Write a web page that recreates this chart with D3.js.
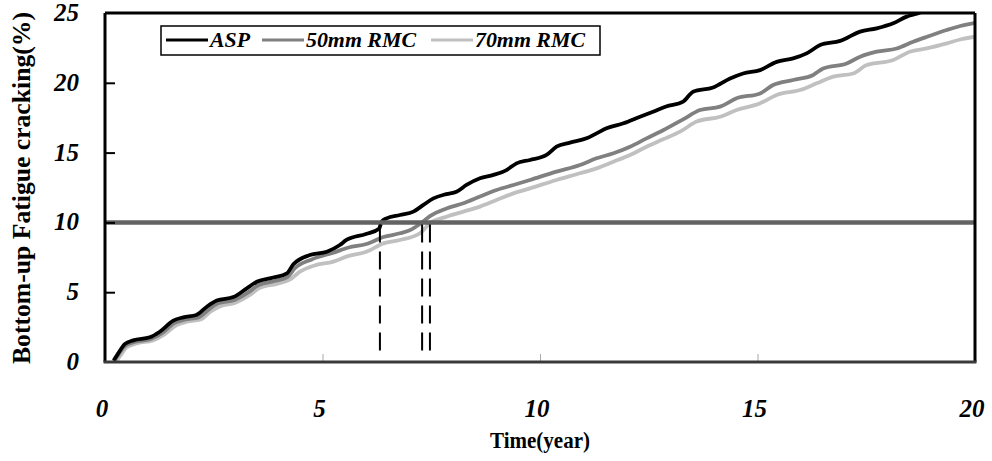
<!DOCTYPE html>
<html>
<head>
<meta charset="utf-8">
<script src="https://cdn.jsdelivr.net/npm/d3@7/dist/d3.min.js"></script>
<style>
  body { margin: 0; background: #fff; }
  svg text { font-family: "Times New Roman", "Liberation Serif", serif; }
</style>
</head>
<body>
<div id="chart"></div>
<script>
// data
var aspYears = [0.2, 0.3, 0.46, 0.65, 1.03, 1.26, 1.57, 1.8, 2.1, 2.34, 2.57, 2.95, 3.26, 3.49, 3.87, 4.18, 4.33, 4.71, 5.1, 5.4, 5.55, 6.0, 6.3, 6.36, 6.47, 6.78, 7.09, 7.32, 7.55, 7.85, 8.08, 8.31, 8.62, 8.93, 9.23, 9.46, 9.77, 10.15, 10.38, 10.69, 11.07, 11.3, 11.53, 11.92, 12.3, 12.6, 12.9, 13.29, 13.52, 13.98, 14.37, 14.67, 15.06, 15.44, 15.82, 16.13, 16.44, 16.9, 17.36, 17.74, 18.12, 18.43, 18.66, 19.0];
var aspCrack = [0.1, 0.6, 1.3, 1.55, 1.77, 2.17, 2.96, 3.2, 3.37, 3.96, 4.4, 4.65, 5.28, 5.75, 6.05, 6.35, 7.0, 7.66, 7.9, 8.38, 8.74, 9.17, 9.55, 10.05, 10.29, 10.53, 10.77, 11.25, 11.72, 12.03, 12.2, 12.68, 13.16, 13.4, 13.75, 14.23, 14.47, 14.83, 15.42, 15.71, 16.02, 16.38, 16.74, 17.1, 17.57, 17.93, 18.3, 18.65, 19.36, 19.67, 20.31, 20.67, 20.91, 21.5, 21.75, 22.11, 22.7, 23.0, 23.67, 23.9, 24.26, 24.74, 24.95, 25.4];

var rmc50Years = [0.2, 0.3, 0.48, 0.7, 1.05, 1.3, 1.6, 1.85, 2.15, 2.38, 2.6, 2.98, 3.3, 3.52, 3.9, 4.2, 4.36, 4.75, 5.25, 5.6, 6.01, 6.4, 6.78, 7.05, 7.29, 7.47, 7.85, 8.24, 8.62, 9.0, 9.39, 9.77, 10.38, 10.92, 11.3, 11.69, 12.07, 12.45, 12.83, 13.3, 13.68, 14.14, 14.52, 15.06, 15.36, 15.82, 16.28, 16.51, 17.05, 17.36, 17.74, 18.2, 18.58, 18.9, 19.35, 19.66, 20.0];
var rmc50Crack = [0.05, 0.5, 1.2, 1.45, 1.65, 2.05, 2.8, 3.05, 3.2, 3.75, 4.2, 4.45, 5.0, 5.5, 5.8, 6.1, 6.7, 7.35, 7.83, 8.2, 8.45, 8.95, 9.22, 9.5, 10.0, 10.45, 11.0, 11.37, 11.85, 12.32, 12.68, 13.04, 13.64, 14.11, 14.59, 14.95, 15.42, 16.02, 16.6, 17.4, 18.05, 18.29, 18.89, 19.24, 19.84, 20.2, 20.56, 21.03, 21.39, 21.87, 22.23, 22.46, 22.94, 23.3, 23.78, 24.07, 24.3];

var rmc70Years = [0.25, 0.35, 0.5, 0.75, 1.1, 1.35, 1.65, 1.9, 2.2, 2.42, 2.65, 3.0, 3.33, 3.55, 3.95, 4.25, 4.48, 4.8, 5.25, 5.6, 6.01, 6.4, 6.78, 7.24, 7.47, 7.85, 8.24, 8.62, 9.0, 9.39, 9.77, 10.38, 10.92, 11.3, 11.69, 12.07, 12.45, 12.83, 13.22, 13.6, 14.14, 14.52, 15.06, 15.44, 15.98, 16.36, 16.74, 17.2, 17.51, 18.12, 18.5, 18.89, 19.35, 19.66, 20.0];
var rmc70Crack = [0.0, 0.45, 1.05, 1.35, 1.55, 1.95, 2.65, 2.9, 3.05, 3.6, 4.0, 4.25, 4.8, 5.3, 5.6, 5.9, 6.47, 6.9, 7.19, 7.6, 7.9, 8.5, 8.74, 9.22, 9.95, 10.41, 10.77, 11.13, 11.6, 12.08, 12.44, 13.04, 13.52, 13.87, 14.35, 14.83, 15.42, 15.95, 16.5, 17.22, 17.57, 18.05, 18.53, 19.13, 19.48, 19.96, 20.44, 20.67, 21.27, 21.63, 22.23, 22.46, 22.82, 23.1, 23.3];

var seriesNames = ["ASP", "50mm RMC", "70mm RMC"];
var seriesColors = ["#000000", "#808080", "#c0c0c0"];
var limitValue = 10;                 // 10% cracking criterion
var limitYears = [6.32, 7.29, 7.47]; // years each mix reaches 10%
var xTicks = [0, 5, 10, 15, 20];
var yTicks = [0, 5, 10, 15, 20, 25];

var WIDTH = 992, HEIGHT = 461;
var plotLeft = 105, plotRight = 975, plotTop = 13, plotBottom = 362;

var svg = d3.select('#chart').append('svg')
            .attr('width', WIDTH)
            .attr('height', HEIGHT);

var x = d3.scaleLinear().domain([0, 20]).range([plotLeft, plotRight]);
var y = d3.scaleLinear().domain([0, 25]).range([plotBottom, plotTop]);

svg.append('clipPath').attr('id', 'plot')
   .append('rect')
   .attr('x', plotLeft).attr('y', plotTop)
   .attr('width', plotRight - plotLeft).attr('height', plotBottom - plotTop);

// curves
var series = [
  d3.zip(aspYears, aspCrack),
  d3.zip(rmc50Years, rmc50Crack),
  d3.zip(rmc70Years, rmc70Crack)
];
var line = d3.line()
             .x(function(d) { return x(d[0]); })
             .y(function(d) { return y(d[1]); })
             .curve(d3.curveMonotoneX);

// draw lightest first so ASP sits on top
[2, 1, 0].forEach(function(i) {
  svg.append('path')
     .attr('clip-path', 'url(#plot)')
     .attr('d', line(series[i]))
     .attr('fill', 'none')
     .attr('stroke', seriesColors[i])
     .attr('stroke-width', 3.8);
});

// 10% limit line
svg.append('line')
   .attr('x1', plotLeft).attr('x2', plotRight)
   .attr('y1', y(limitValue)).attr('y2', y(limitValue))
   .attr('stroke', '#636363')
   .attr('stroke-width', 4.5);

// drop lines
svg.selectAll('.drop')
   .data(limitYears)
   .enter()
   .append('line')
   .attr('class', 'drop')
   .attr('x1', function(d) { return x(d); })
   .attr('x2', function(d) { return x(d); })
   .attr('y1', y(limitValue) + 2)
   .attr('y2', plotBottom - 8)
   .attr('stroke', '#000')
   .attr('stroke-width', 2)
   .attr('stroke-dasharray', '18,9');

// axes
var xAxis = d3.axisBottom(x).tickValues(xTicks.slice(1, -1)).tickSize(-8).tickFormat('');
svg.append('g')
   .attr('transform', 'translate(0,' + plotBottom + ')')
   .call(xAxis)
   .call(function(g) {
     g.select('.domain').remove();
     g.selectAll('line').attr('stroke', '#aaa').attr('stroke-width', 1);
   });

var yAxis = d3.axisLeft(y).tickValues(yTicks.slice(1, -1)).tickSize(-10).tickFormat('');
svg.append('g')
   .attr('transform', 'translate(' + plotLeft + ',0)')
   .call(yAxis)
   .call(function(g) {
     g.select('.domain').remove();
     g.selectAll('line').attr('stroke', '#000').attr('stroke-width', 2);
   });

// frame
svg.append('line').attr('x1', plotLeft).attr('x2', plotRight).attr('y1', plotTop).attr('y2', plotTop)
   .attr('stroke', '#000').attr('stroke-width', 3);
svg.append('line').attr('x1', plotRight).attr('x2', plotRight).attr('y1', plotTop).attr('y2', plotBottom)
   .attr('stroke', '#000').attr('stroke-width', 3);
svg.append('line').attr('x1', plotLeft).attr('x2', plotLeft).attr('y1', plotTop).attr('y2', plotBottom)
   .attr('stroke', '#000').attr('stroke-width', 3);
svg.append('line').attr('x1', plotLeft - 1.5).attr('x2', plotRight + 1.5).attr('y1', plotBottom).attr('y2', plotBottom)
   .attr('stroke', '#3a3a3a').attr('stroke-width', 3);

// tick labels
svg.selectAll('.xlab')
   .data(xTicks)
   .enter()
   .append('text')
   .attr('x', function(d) { return x(d) - 3; })
   .attr('y', 417)
   .attr('text-anchor', 'middle')
   .attr('font-size', 25)
   .attr('font-weight', 'bold')
   .attr('font-style', 'italic')
   .text(function(d) { return d; });

svg.selectAll('.ylab')
   .data(yTicks)
   .enter()
   .append('text')
   .attr('x', 79)
   .attr('y', function(d) { return y(d) + 8; })
   .attr('text-anchor', 'end')
   .attr('font-size', 25)
   .attr('font-weight', 'bold')
   .attr('font-style', 'italic')
   .text(function(d) { return d; });

// axis titles
svg.append('text')
   .attr('x', 540).attr('y', 448)
   .attr('text-anchor', 'middle')
   .attr('font-size', 23)
   .attr('font-weight', 'bold')
   .attr('textLength', 100)
   .attr('lengthAdjust', 'spacingAndGlyphs')
   .text('Time(year)');

svg.append('text')
   .attr('transform', 'translate(30,188) rotate(-90)')
   .attr('text-anchor', 'middle')
   .attr('font-size', 25)
   .attr('font-weight', 'bold')
   .attr('textLength', 352)
   .attr('lengthAdjust', 'spacingAndGlyphs')
   .text('Bottom-up Fatigue cracking(%)');

// legend
var legend = svg.append('g');
legend.append('rect')
      .attr('x', 161).attr('y', 26)
      .attr('width', 439).attr('height', 29)
      .attr('fill', '#fff')
      .attr('stroke', '#000')
      .attr('stroke-width', 1.5);

var legendX = [166, 262, 431];
var legendTextW = [40, 110, 110];
seriesNames.forEach(function(name, i) {
  legend.append('line')
        .attr('x1', legendX[i]).attr('x2', legendX[i] + 42)
        .attr('y1', 40).attr('y2', 40)
        .attr('stroke', seriesColors[i])
        .attr('stroke-width', 3);
  legend.append('text')
        .attr('x', legendX[i] + 44).attr('y', 47)
        .attr('font-size', 21)
        .attr('font-weight', 'bold')
        .attr('font-style', 'italic')
        .attr('textLength', legendTextW[i])
        .attr('lengthAdjust', 'spacingAndGlyphs')
        .text(name);
});
</script>
</body>
</html>
